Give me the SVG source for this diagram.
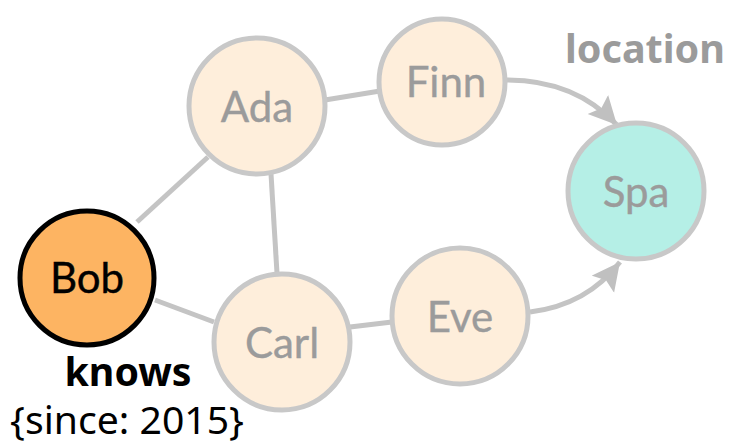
<svg xmlns="http://www.w3.org/2000/svg" width="731" height="448" viewBox="0 0 731 448">
  <style>
    .edge { fill: none; stroke: #c4c4c4; stroke-width: 5; }
    .node { stroke: #c8c8c8; stroke-width: 5; }
    .person { fill: #feeedb; }
    .place { fill: #b5efe6; }
    .name { font-family: Lato, "Open Sans", sans-serif; font-size: 42px; fill: #9b9b9b; stroke: #9b9b9b; stroke-width: 0.4; text-anchor: middle; }
    .label { font-family: "Noto Sans", "Open Sans", sans-serif; text-anchor: middle; }
  </style>
  <defs>
    <marker id="arrow" markerUnits="userSpaceOnUse" markerWidth="34" markerHeight="34" refX="28" refY="14" orient="auto">
      <path d="M0,0 L28,14 L0,28 L5,14 Z" fill="#c0c0c0"/>
    </marker>
  </defs>

  <g id="connectors">
    <line class="edge" x1="137" y1="222" x2="208" y2="157"/>
    <line class="edge" x1="155" y1="300" x2="214" y2="322"/>
    <line class="edge" x1="271" y1="174" x2="277" y2="273"/>
    <line class="edge" x1="325" y1="100" x2="380" y2="91"/>
    <line class="edge" x1="350" y1="327" x2="392" y2="322"/>
    <path class="edge" d="M507,80 Q575,80 617,125" marker-end="url(#arrow)"/>
    <path class="edge" d="M530,312 Q587,305 620,262" marker-end="url(#arrow)"/>
  </g>

  <g id="node-bob">
    <circle cx="87" cy="278" r="67" fill="#fdb462" stroke="#000" stroke-width="5"/>
    <text class="name" x="87" y="293" style="fill:#000;stroke:#000">Bob</text>
  </g>
  <g id="node-ada">
    <circle class="node person" cx="257" cy="106" r="68"/>
    <text class="name" x="257" y="122">Ada</text>
  </g>
  <g id="node-finn">
    <circle class="node person" cx="442" cy="82" r="63"/>
    <text class="name" x="446" y="97">Finn</text>
  </g>
  <g id="node-carl">
    <circle class="node person" cx="282" cy="342" r="68"/>
    <text class="name" x="282" y="358">Carl</text>
  </g>
  <g id="node-eve">
    <circle class="node person" cx="460" cy="316" r="68"/>
    <text class="name" x="460" y="332">Eve</text>
  </g>
  <g id="node-spa">
    <circle class="node place" cx="636" cy="191" r="68"/>
    <text class="name" x="636" y="207">Spa</text>
  </g>

  <g id="edge-labels">
    <text class="label" x="645" y="63" font-size="39" font-weight="bold" fill="#9b9b9b" textLength="160" lengthAdjust="spacingAndGlyphs">location</text>
    <text class="label" x="128" y="386" font-size="40" font-weight="bold" fill="#000" textLength="127" lengthAdjust="spacingAndGlyphs">knows</text>
    <text class="label" x="127" y="434" font-size="38" fill="#000" textLength="234" lengthAdjust="spacingAndGlyphs">{since: 2015}</text>
  </g>
</svg>
